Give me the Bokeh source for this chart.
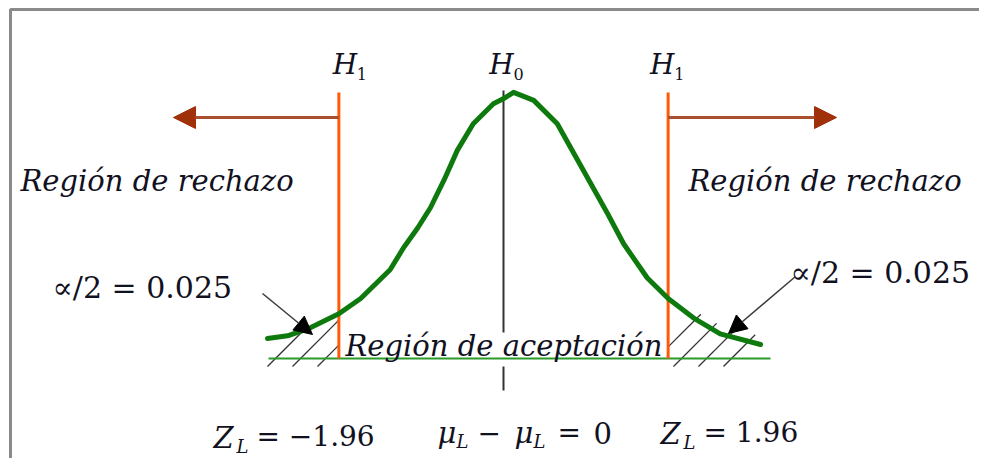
import numpy as np
from bokeh.plotting import figure
from bokeh.models import Range1d, Arrow, NormalHead
from bokeh.core.properties import value
from bokeh.embed import file_html
from bokeh.resources import INLINE

# ---------------- data ----------------
curve_z = [-2.81, -2.57, -2.30, -1.96, -1.70, -1.35, -1.19, -1.02, -0.87, -0.71,
           -0.55, -0.36, -0.12, 0.02, 0.12, 0.36, 0.64, 0.80, 1.04, 1.24,
           1.43, 1.71, 1.96, 2.26, 2.58, 3.06]
curve_d = [0.030, 0.034, 0.046, 0.067, 0.090, 0.133, 0.166, 0.196, 0.226, 0.267,
           0.312, 0.352, 0.382, 0.391, 0.399, 0.387, 0.352, 0.316, 0.262, 0.217,
           0.172, 0.121, 0.090, 0.061, 0.037, 0.021]
critical_z = [-1.96, 1.96]
center_z = 0.0
alpha_half = 0.025
hyp_letters = ["H", "H", "H"]
hyp_subs = ["1", "0", "1"]
hyp_z = [-1.96, 0.0, 1.96]
region_reject = "Región de rechazo"
region_accept = "Región de aceptación"
alpha_label = "\u221d/2 = " + f"{alpha_half:.3f}"
zl_left = f"= \u2212{abs(critical_z[0]):.2f}"
zl_right = f"= {critical_z[1]:.2f}"
mu_diff = "0"

# ---------------- layout helpers (picture px -> data) ----------------
Z0_PX, PX_PER_Z, BASE_PX, PX_PER_D = 503.0, 84.0, 358.0, 667.0
def X(px):
    return (px - Z0_PX) / PX_PER_Z
def Y(py):
    return (BASE_PX - py) / PX_PER_D
def PX(z):
    return Z0_PX + z * PX_PER_Z
def PY(d):
    return BASE_PX - d * PX_PER_D

p = figure(width=979, height=458, output_backend="svg", toolbar_location=None,
           x_range=Range1d(X(0), X(979)), y_range=Range1d(Y(458), Y(0)),
           min_border=0, outline_line_color=None)
p.axis.visible = False
p.grid.visible = False
p.background_fill_color = "white"
p.border_fill_color = "white"

# frame (top and left edges visible)
p.line([X(10), X(10), X(995)], [Y(475), Y(9), Y(9)], line_color="#8a8a8a", line_width=3)

# hatch lines under the tails (45 degree strokes up to the curve)
cz = np.array(curve_z); cd = np.array(curve_d)
def hatch(bottoms, xmin, xmax, overshoot):
    x0s, y0s, x1s, y1s = [], [], [], []
    for b in bottoms:
        bottom_y = 366.0
        xs = np.linspace(b, b + 80, 400)
        ys = bottom_y - (xs - b)
        curve_py = PY(np.interp(X(xs), cz, cd))
        hit = np.argmax(ys <= curve_py - overshoot) if np.any(ys <= curve_py - overshoot) else len(xs) - 1
        xe, ye = xs[hit], ys[hit]
        xs0, ys0 = b, bottom_y
        if xs0 < xmin:
            ys0 = bottom_y - (xmin - b); xs0 = xmin
        if xe > xmax:
            ye = bottom_y - (xmax - b); xe = xmax
        if xs0 >= xe:
            continue
        x0s.append(X(xs0)); y0s.append(Y(ys0)); x1s.append(X(xe)); y1s.append(Y(ye))
    p.segment(x0=x0s, y0=y0s, x1=x1s, y1=y1s, line_color="#333333", line_width=1.3)

hatch([267, 292, 317], PX(curve_z[0]) - 2, PX(critical_z[0]), 2)
hatch([648, 673, 698, 723], PX(critical_z[1]), 760, 8)

# baseline
p.segment(x0=[X(268)], y0=[0], x1=[X(770)], y1=[0], line_color="#2a9a2a", line_width=2)

# center line (broken around the acceptance label)
p.segment(x0=[center_z, center_z], y0=[Y(90), Y(366)], x1=[center_z, center_z], y1=[Y(332), Y(390)],
          line_color="#333333", line_width=2)

# critical lines
p.segment(x0=critical_z, y0=[0, 0], x1=critical_z, y1=[Y(92), Y(92)],
          line_color="#ff5a0a", line_width=3)

# density curve
p.line(curve_z, curve_d, line_color="#0e7a0e", line_width=5, line_join="round", line_cap="round")

# brown direction arrows
for xs, xe in [(critical_z[0], X(173)), (critical_z[1], X(836))]:
    p.add_layout(Arrow(end=NormalHead(size=22, fill_color="#a0300a", line_color="#a0300a"),
                       x_start=xs, y_start=Y(117), x_end=xe, y_end=Y(117),
                       line_color="#a8502f", line_width=3))

# pointer arrows
for xs, ys, xe, ye in [(X(262), Y(293), X(312), Y(334)), (X(795), Y(276), X(728), Y(333))]:
    p.add_layout(Arrow(end=NormalHead(size=18, fill_color="black", line_color="black"),
                       x_start=xs, y_start=ys, x_end=xe, y_end=ye,
                       line_color="#3a3a3a", line_width=1.5))

TXT = "#111122"
def txt(px, py, s, size, style="normal", font="DejaVu Serif", align="left"):
    p.text(x=[X(px)], y=[Y(py)], text=[s], text_font=value(font), text_font_size=f"{size}px",
           text_font_style=style, text_align=align, text_baseline="middle", text_color=TXT)

# hypothesis labels
for lab, sub, z in zip(hyp_letters, hyp_subs, hyp_z):
    cx = PX(z) + (6 if z < 0 else (-2 if z == 0 else -6))
    txt(cx, 64, lab, 28, "italic", align="center")
    txt(cx + 12, 73, sub, 16)

txt(20, 180, region_reject, 29, "italic")
txt(688, 180, region_reject, 29, "italic")
txt(345, 345, region_accept, 29, "italic")
txt(52, 287, alpha_label, 30)
txt(790, 272, alpha_label, 30)

# Z_L = -1.96
txt(213, 437, "Z", 29, "italic")
txt(236, 446, "L", 18, "italic")
txt(256, 436, zl_left, 28)
# mu_L - mu_L = 0
txt(437, 432, "\u03bc", 29, "italic")
txt(456, 441, "L", 18, "italic")
txt(477, 432, "\u2212", 28)
txt(514, 432, "\u03bc", 29, "italic")
txt(533, 441, "L", 18, "italic")
txt(557, 432, "=", 28)
txt(593, 432, mu_diff, 29)
# Z_L = 1.96
txt(660, 433, "Z", 29, "italic")
txt(683, 442, "L", 18, "italic")
txt(703, 432, zl_right, 28)

open("out.html", "w").write(file_html(p, INLINE))
